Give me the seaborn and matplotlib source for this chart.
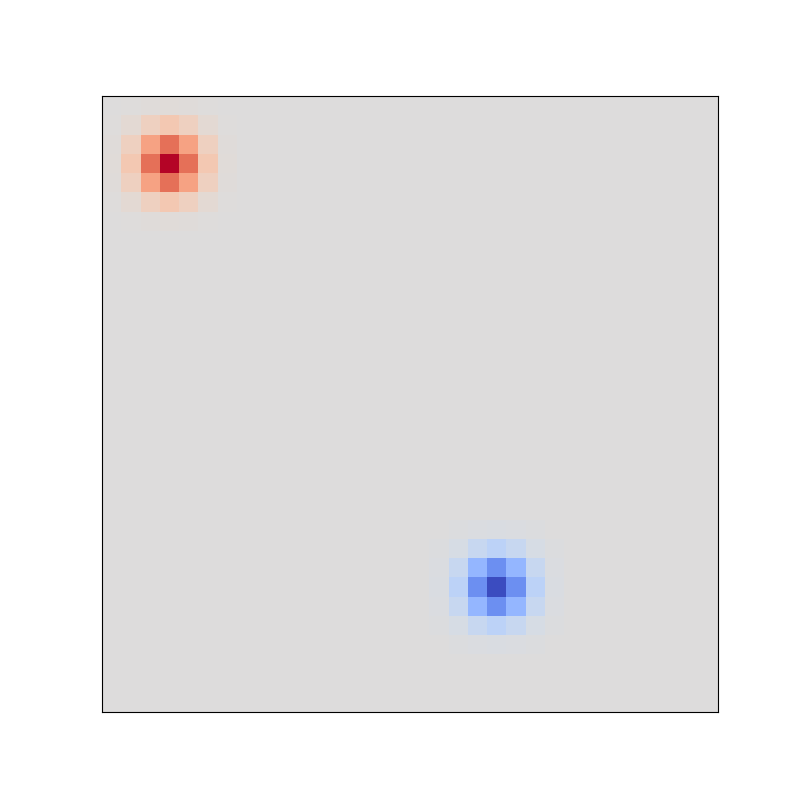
import numpy as np
import seaborn as sns
import matplotlib
matplotlib.use("Agg")
import matplotlib.pyplot as plt

n_rows = 32
n_cols = 32

# blob shape (values relative to the peak)
blob = [
    [0.00, 0.01, 0.02, 0.03, 0.02, 0.01, 0.00],
    [0.01, 0.05, 0.15, 0.22, 0.15, 0.05, 0.01],
    [0.02, 0.15, 0.46, 0.68, 0.46, 0.15, 0.02],
    [0.03, 0.22, 0.68, 1.00, 0.68, 0.22, 0.03],
    [0.02, 0.15, 0.46, 0.68, 0.46, 0.15, 0.02],
    [0.01, 0.05, 0.15, 0.22, 0.15, 0.05, 0.01],
    [0.00, 0.01, 0.02, 0.03, 0.02, 0.01, 0.00],
]

# peak cells (row, col) and sign
peak_rows = [3, 25]
peak_cols = [3, 20]
peak_signs = [1.0, -1.0]

grid = np.zeros((n_rows, n_cols))
patch = np.array(blob)
half = patch.shape[0] // 2
for r, c, s in zip(peak_rows, peak_cols, peak_signs):
    grid[r - half:r + half + 1, c - half:c + half + 1] += s * patch

fig, ax = plt.subplots(figsize=(8, 8), dpi=100)
sns.heatmap(grid, cmap="coolwarm", vmin=-1, vmax=1, cbar=False,
            xticklabels=False, yticklabels=False, square=True, ax=ax)
for sp in ax.spines.values():
    sp.set_visible(True)
    sp.set_color("black")
    sp.set_linewidth(0.8)

fig.savefig("out.png", dpi=100)
